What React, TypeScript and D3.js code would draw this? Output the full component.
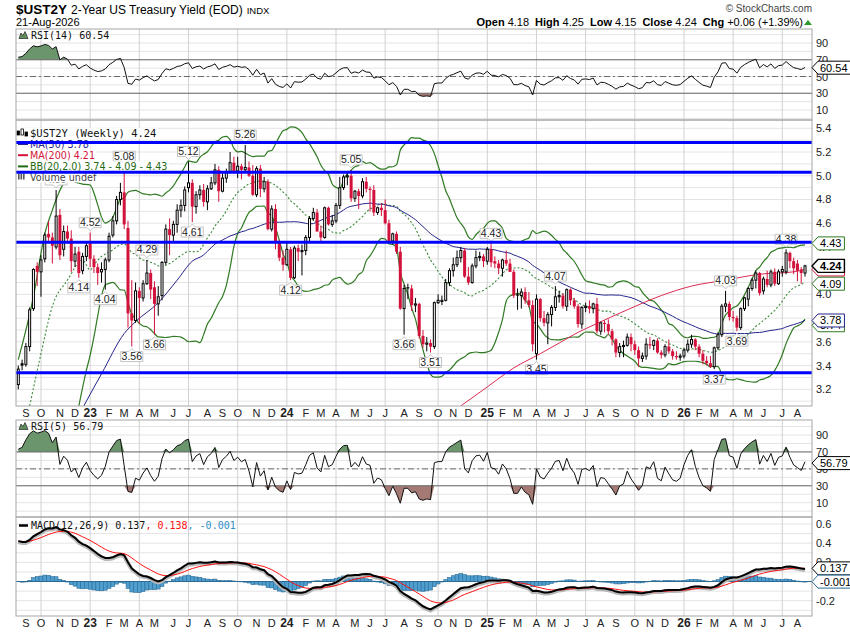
import React, { useEffect, useRef } from 'react';
import * as d3 from 'd3';

// first weekly bar: week starting Monday 22-Aug-2022, last bar week of 17-Aug-2026
const firstWeek = new Date(2022, 7, 22);

const opens = [
  3.24, 3.42, 3.41, 3.56, 3.88, 4.24, 4.19, 4.30, 4.51, 4.48,
  4.40, 4.67, 4.38, 4.53, 4.47, 4.28, 4.36, 4.20, 4.32, 4.43,
  4.30, 4.23, 4.19, 4.21, 4.29, 4.50, 4.62, 4.80, 4.86, 4.56,
  3.84, 3.78, 4.03, 3.97, 4.09, 4.18, 4.06, 3.92, 3.99, 4.27,
  4.55, 4.50, 4.59, 4.71, 4.75, 4.90, 4.94, 4.74, 4.84, 4.88,
  4.78, 4.89, 4.94, 5.05, 4.87, 4.98, 5.03, 5.11, 5.04, 5.08,
  5.05, 5.07, 5.00, 4.84, 5.06, 4.89, 4.95, 4.55, 4.72, 4.44,
  4.31, 4.25, 4.38, 4.14, 4.39, 4.36, 4.37, 4.48, 4.64, 4.69,
  4.53, 4.48, 4.73, 4.59, 4.62, 4.75, 4.90, 4.99, 5.00, 4.81,
  4.87, 4.83, 4.95, 4.89, 4.88, 4.69, 4.73, 4.71, 4.60, 4.45,
  4.51, 4.36, 3.88, 4.06, 4.05, 3.91, 3.92, 3.65, 3.58, 3.59,
  3.56, 3.93, 3.94, 3.95, 4.10, 4.20, 4.25, 4.31, 4.37, 4.15,
  4.10, 4.24, 4.31, 4.32, 4.28, 4.38, 4.28, 4.26, 4.22, 4.29,
  4.26, 4.19, 4.00, 3.99, 4.02, 3.95, 3.91, 3.50, 3.96, 3.80,
  3.76, 3.83, 3.89, 3.98, 3.99, 3.90, 4.04, 3.95, 3.90, 3.75,
  3.89, 3.90, 3.88, 3.92, 3.69, 3.76, 3.75, 3.69, 3.62, 3.51,
  3.56, 3.57, 3.64, 3.58, 3.53, 3.46, 3.48, 3.58, 3.57, 3.61,
  3.51, 3.49, 3.56, 3.52, 3.48, 3.47, 3.48, 3.53, 3.58, 3.62,
  3.56, 3.50, 3.44, 3.42, 3.39, 3.55, 3.66, 3.90, 3.92, 3.81,
  3.80, 3.72, 3.88, 3.96, 4.05, 4.12, 4.18, 4.03, 4.13, 4.08,
  4.19, 4.09, 4.19, 4.19, 4.35, 4.28, 4.26, 4.21, 4.18,
];
const highs = [
  3.40, 3.45, 3.59, 3.89, 4.22, 4.27, 4.33, 4.52, 4.62, 4.52,
  4.88, 4.72, 4.58, 4.58, 4.54, 4.40, 4.40, 4.35, 4.45, 4.52,
  4.33, 4.26, 4.27, 4.31, 4.52, 4.66, 4.83, 4.94, 5.08, 4.62,
  4.12, 4.10, 4.06, 4.12, 4.29, 4.21, 4.11, 4.07, 4.28, 4.59,
  4.64, 4.62, 4.76, 4.80, 4.91, 5.12, 4.97, 4.87, 4.92, 4.93,
  4.92, 4.99, 5.10, 5.08, 5.02, 5.06, 5.20, 5.16, 5.16, 5.10,
  5.26, 5.12, 5.09, 5.08, 5.09, 4.99, 4.97, 4.75, 4.76, 4.46,
  4.37, 4.45, 4.40, 4.41, 4.42, 4.42, 4.50, 4.66, 4.73, 4.72,
  4.58, 4.74, 4.74, 4.67, 4.77, 4.99, 5.01, 5.03, 5.05, 4.88,
  4.89, 4.98, 4.99, 4.91, 4.92, 4.74, 4.77, 4.80, 4.63, 4.52,
  4.53, 4.40, 4.08, 4.09, 4.08, 3.97, 3.93, 3.70, 3.64, 3.62,
  3.94, 4.00, 3.99, 4.13, 4.22, 4.31, 4.37, 4.40, 4.39, 4.23,
  4.26, 4.37, 4.36, 4.34, 4.40, 4.43, 4.32, 4.29, 4.30, 4.37,
  4.30, 4.21, 4.05, 4.05, 4.06, 4.02, 3.95, 4.00, 3.97, 3.86,
  3.85, 3.91, 4.07, 4.03, 4.01, 4.05, 4.05, 3.97, 3.92, 3.90,
  3.93, 3.95, 3.93, 3.97, 3.77, 3.78, 3.79, 3.71, 3.63, 3.59,
  3.61, 3.67, 3.67, 3.61, 3.56, 3.51, 3.63, 3.64, 3.62, 3.63,
  3.53, 3.58, 3.62, 3.54, 3.52, 3.50, 3.55, 3.62, 3.66, 3.63,
  3.58, 3.53, 3.48, 3.48, 3.56, 3.68, 3.92, 4.03, 3.94, 3.86,
  3.82, 3.89, 3.98, 4.06, 4.14, 4.20, 4.19, 4.15, 4.20, 4.21,
  4.22, 4.21, 4.24, 4.38, 4.36, 4.31, 4.29, 4.23, 4.25,
];
const lows = [
  3.20, 3.36, 3.39, 3.52, 3.86, 4.07, 3.98, 4.27, 4.44, 4.26,
  4.38, 4.29, 4.32, 4.43, 4.19, 4.23, 4.14, 4.17, 4.28, 4.23,
  4.18, 4.08, 4.10, 4.04, 4.27, 4.48, 4.59, 4.75, 4.55, 3.72,
  3.56, 3.76, 3.75, 3.94, 4.08, 3.96, 3.66, 3.82, 3.95, 4.25,
  4.33, 4.45, 4.52, 4.65, 4.70, 4.86, 4.61, 4.68, 4.80, 4.74,
  4.71, 4.88, 4.92, 4.78, 4.86, 4.94, 5.02, 5.02, 4.98, 4.97,
  5.04, 4.99, 4.83, 4.82, 4.82, 4.86, 4.54, 4.53, 4.38, 4.28,
  4.20, 4.24, 4.12, 4.13, 4.28, 4.16, 4.33, 4.45, 4.62, 4.53,
  4.44, 4.47, 4.58, 4.57, 4.60, 4.72, 4.88, 4.92, 4.78, 4.78,
  4.72, 4.81, 4.86, 4.70, 4.66, 4.67, 4.66, 4.59, 4.44, 4.42,
  4.34, 3.87, 3.66, 3.96, 3.86, 3.85, 3.63, 3.55, 3.52, 3.51,
  3.54, 3.92, 3.91, 3.94, 4.07, 4.15, 4.23, 4.27, 4.14, 4.08,
  4.09, 4.22, 4.28, 4.23, 4.25, 4.23, 4.22, 4.17, 4.15, 4.24,
  4.19, 3.97, 3.87, 3.88, 3.92, 3.89, 3.52, 3.45, 3.77, 3.73,
  3.58, 3.73, 3.86, 3.93, 3.88, 3.86, 3.91, 3.88, 3.72, 3.71,
  3.85, 3.84, 3.84, 3.67, 3.66, 3.68, 3.66, 3.57, 3.47, 3.47,
  3.47, 3.56, 3.52, 3.49, 3.39, 3.43, 3.45, 3.54, 3.53, 3.50,
  3.46, 3.47, 3.50, 3.45, 3.45, 3.44, 3.46, 3.51, 3.55, 3.53,
  3.47, 3.41, 3.40, 3.38, 3.37, 3.53, 3.64, 3.85, 3.78, 3.77,
  3.69, 3.70, 3.86, 3.90, 4.03, 4.05, 3.99, 4.00, 4.06, 4.06,
  4.07, 4.08, 4.15, 4.17, 4.22, 4.17, 4.11, 4.09, 4.15,
];
const closes = [
  3.37, 3.40, 3.56, 3.87, 4.21, 4.19, 4.29, 4.50, 4.48, 4.41,
  4.66, 4.33, 4.53, 4.47, 4.28, 4.34, 4.18, 4.32, 4.41, 4.30,
  4.23, 4.18, 4.21, 4.29, 4.49, 4.62, 4.80, 4.86, 4.59, 3.84,
  3.78, 4.03, 3.97, 4.09, 4.18, 4.04, 3.92, 3.98, 4.27, 4.55,
  4.50, 4.59, 4.71, 4.75, 4.88, 4.94, 4.74, 4.84, 4.88, 4.78,
  4.89, 4.94, 5.05, 4.87, 4.98, 5.03, 5.11, 5.04, 5.08, 5.05,
  5.07, 5.00, 4.84, 5.06, 4.89, 4.95, 4.55, 4.72, 4.44, 4.31,
  4.25, 4.38, 4.14, 4.39, 4.36, 4.37, 4.48, 4.64, 4.69, 4.53,
  4.48, 4.73, 4.59, 4.62, 4.75, 4.90, 4.99, 5.00, 4.81, 4.87,
  4.83, 4.95, 4.89, 4.88, 4.69, 4.73, 4.71, 4.60, 4.45, 4.51,
  4.36, 3.88, 4.05, 4.05, 3.91, 3.92, 3.65, 3.58, 3.59, 3.56,
  3.93, 3.95, 3.95, 4.10, 4.20, 4.25, 4.31, 4.37, 4.15, 4.10,
  4.24, 4.31, 4.32, 4.28, 4.38, 4.27, 4.26, 4.22, 4.29, 4.26,
  4.19, 3.99, 3.99, 4.02, 3.95, 3.91, 3.58, 3.96, 3.80, 3.76,
  3.83, 3.89, 3.98, 3.99, 3.90, 4.04, 3.95, 3.90, 3.75, 3.89,
  3.90, 3.88, 3.92, 3.69, 3.76, 3.75, 3.69, 3.62, 3.51, 3.56,
  3.57, 3.64, 3.58, 3.53, 3.46, 3.48, 3.58, 3.57, 3.61, 3.51,
  3.49, 3.56, 3.52, 3.48, 3.47, 3.48, 3.53, 3.58, 3.62, 3.56,
  3.50, 3.44, 3.42, 3.39, 3.55, 3.66, 3.90, 3.92, 3.81, 3.80,
  3.72, 3.88, 3.97, 4.05, 4.12, 4.18, 4.01, 4.13, 4.08, 4.19,
  4.09, 4.19, 4.21, 4.35, 4.28, 4.22, 4.20, 4.18, 4.24,
];

const ma50Early = [[17, 3.04], [18, 3.10], [22, 3.33], [28, 3.67], [31, 3.77], [37, 3.93], [42, 4.12], [46, 4.28]];
const ma200Points = [
  [117, 3.06], [124, 3.22], [131, 3.38], [138, 3.50], [143, 3.59], [148, 3.68], [152, 3.74],
  [161, 3.87], [170, 3.99], [178, 4.07], [187, 4.12], [196, 4.17], [205, 4.19], [208, 4.21],
];
const bbUpperEarly = [[0, 3.45], [4, 3.98], [7, 4.51], [9, 4.71], [10, 4.80], [13, 4.96], [17, 4.93]];
const bbMiddleEarly = [[3, 3.06], [6, 3.50], [9, 3.90], [13, 4.12], [17, 4.29]];
const bbLowerEarly = [[16, 3.06], [18, 3.36]];

// seeds for the running averages at the first bar
const rsi14Seed = [0.054, 0.02];
const rsi5Seed = [0.06, 0.022];
const macdSeed = [3.08, 2.65, 0.42];

const levelLines = [5.28, 5.03, 4.44, 3.34];
const highLabelBars = [10, 19, 28, 34, 45, 60, 88, 125, 142, 187, 203];
const lowLabelBars = [16, 23, 30, 36, 46, 72, 102, 109, 137, 184, 190];

const priceTicks = [5.4, 5.2, 5.0, 4.8, 4.6, 4.4, 4.2, 4.0, 3.8, 3.6, 3.4, 3.2];
const rsiTicks = [90, 70, 50, 30, 10];
const macdTicks = [0.6, 0.4, 0.2, -0.2];
const monthLetters = ['J', 'F', 'M', 'A', 'M', 'J', 'J', 'A', 'S', 'O', 'N', 'D'];

const headerStats = [['Open', '4.18'], ['High', '4.25'], ['Low', '4.15'], ['Close', '4.24'], ['Chg', '+0.06 (+1.39%)']];
const lastClose = 4.24;
const lastMa50 = 3.78;
const lastMa200 = 4.21;
const lastBB = [3.74, 4.09, 4.43];
const lastRsi14 = 60.54;
const lastRsi5 = 56.79;
const lastMacd = [0.137, 0.138, -0.001];

export default function App() {
  const svgRef = useRef<SVGSVGElement>(null);

  useEffect(() => {
    if (!svgRef.current) return;
    const svg = d3.select(svgRef.current);
    svg.selectAll('*').remove();

    const left = 16, right = 812;
    const n = closes.length;
    const red = '#d3123c';
    const green = '#2f7a22';
    const navy = '#24248c';
    const sans = '"Liberation Sans", Arial, sans-serif';
    const mono = '"DejaVu Sans Mono", monospace';
    const dejavu = '"DejaVu Sans", Verdana, sans-serif';

    const x = d3.scaleLinear().domain([0, n - 1]).range([18.3, 805]);
    const dates = closes.map((_, i) => d3.timeDay.offset(firstWeek, i * 7));
    const monthStarts = d3.range(1, n).filter(i => dates[i].getMonth() !== dates[i - 1].getMonth());
    const quarterStarts = monthStarts.filter(i => dates[i].getMonth() % 3 === 0);

    const panels: Record<string, number[]> = {
      rsi14: [29, 120],
      main: [120, 406],
      rsi5: [420, 517],
      macd: [517, 616],
    };
    const yRsi14 = d3.scaleLinear().domain([10, 90]).range([110, 43]);
    const yPrice = d3.scaleLinear().domain([3.2, 5.4]).range([389.3, 128.3]);
    const yRsi5 = d3.scaleLinear().domain([10, 90]).range([502.7, 435]);
    const yMacd = d3.scaleLinear().domain([-0.2, 0.6]).range([600.7, 524]);

    // indicators
    const rsi = (period: number, seed: number[]) => {
      let gain = seed[0], loss = seed[1];
      return closes.map((c, i) => {
        if (i > 0) {
          const ch = c - closes[i - 1];
          gain = (gain * (period - 1) + Math.max(ch, 0)) / period;
          loss = (loss * (period - 1) + Math.max(-ch, 0)) / period;
        }
        return 100 - 100 / (1 + gain / loss);
      });
    };
    const rsi14 = rsi(14, rsi14Seed);
    const rsi5 = rsi(5, rsi5Seed);

    let fast = macdSeed[0], slow = macdSeed[1], signal = macdSeed[2];
    const macd = closes.map(c => {
      fast += (c - fast) * 2 / 13;
      slow += (c - slow) * 2 / 27;
      const m = fast - slow;
      signal += (m - signal) * 2 / 10;
      return { m, s: signal, h: m - signal };
    });

    const bb = d3.range(19, n).map(i => {
      const w = closes.slice(i - 19, i + 1);
      const m = d3.mean(w)!;
      const sd = Math.sqrt(d3.mean(w, v => (v - m) * (v - m))!);
      return { i, m, up: m + 2 * sd, lo: m - 2 * sd };
    });
    const ma50 = d3.range(49, n).map(i => [i, d3.mean(closes.slice(i - 49, i + 1))!]);

    const bbUpper = [...bbUpperEarly, ...bb.map(d => [d.i, d.up])];
    const bbMiddle = [...bbMiddleEarly, ...bb.map(d => [d.i, d.m])];
    const bbLower = [...bbLowerEarly, ...bb.map(d => [d.i, d.lo])];
    const ma50Line = [...ma50Early, ...ma50];

    const defs = svg.append('defs');
    const borders: number[][] = [];

    const hLine = (g: any, y: number, stroke: string, dash: string | null = null, width = 1) =>
      g.append('line').attr('x1', left).attr('x2', right).attr('y1', y).attr('y2', y)
        .attr('stroke', stroke).attr('stroke-width', width).attr('stroke-dasharray', dash);

    function panel(key: string, y: any, grid: number[]) {
      const [top, bottom] = panels[key];
      defs.append('clipPath').attr('id', `clip-${key}`)
        .append('rect').attr('x', left).attr('y', top).attr('width', right - left).attr('height', bottom - top);
      const g = svg.append('g');
      g.append('rect').attr('x', left).attr('y', top).attr('width', right - left).attr('height', bottom - top).attr('fill', '#fff');
      const body = g.append('g').attr('clip-path', `url(#clip-${key})`);
      grid.forEach(v => hLine(body, y(v), '#e4e4e4'));
      quarterStarts.forEach(i => body.append('line')
        .attr('x1', x(i)).attr('x2', x(i)).attr('y1', top).attr('y2', bottom)
        .attr('stroke', '#d2d2d2'));
      borders.push([top, bottom]);
      return { g, body };
    }

    const tags: [number, string, string, boolean][] = [];

    function rightTicks(g: any, y: any, ticks: number[], fmt: (v: number) => string) {
      ticks.forEach(v => g.append('text')
        .attr('x', right + 4).attr('y', y(v) + 4)
        .attr('font-family', sans).attr('font-size', 11).attr('fill', '#222')
        .text(fmt(v)));
    }

    // ---- RSI panels
    function drawRsi(key: string, y: any, values: number[], title: string, last: number) {
      const { g, body } = panel(key, y, d3.range(0, 101, 10));
      body.append('path').datum(values)
        .attr('d', d3.area<number>().x((_, i) => x(i)).y0(y(70)).y1(v => y(Math.max(v, 70))))
        .attr('fill', '#6b966b');
      body.append('path').datum(values)
        .attr('d', d3.area<number>().x((_, i) => x(i)).y0(y(30)).y1(v => y(Math.min(v, 30))))
        .attr('fill', '#a57a74');
      hLine(body, y(70), '#6a6a6a');
      hLine(body, y(30), '#6a6a6a');
      hLine(body, y(50), '#6a6a6a', '6,3,2,3');
      body.append('path').datum(values)
        .attr('d', d3.line<number>().x((_, i) => x(i)).y(v => y(v)))
        .attr('fill', 'none').attr('stroke', '#111').attr('stroke-width', 1);

      const top = panels[key][0];
      g.append('path')
        .attr('d', `M19,${top + 9.5} L21,${top + 4} L23,${top + 6.5} L25,${top + 2.5} L28,${top + 9.5} Z`)
        .attr('fill', '#5f8f5f').attr('stroke', '#222').attr('stroke-width', 0.7);
      g.append('text').attr('x', 31).attr('y', top + 10)
        .attr('font-family', mono).attr('font-size', 10).attr('fill', '#111')
        .text(`${title} ${last.toFixed(2)}`);
      rightTicks(g, y, rsiTicks, v => String(v));
      tags.push([y(last), last.toFixed(2), '#000', false]);
    }

    drawRsi('rsi14', yRsi14, rsi14, 'RSI(14)', lastRsi14);

    // ---- price panel
    {
      const { g, body } = panel('main', yPrice, d3.range(31, 55).map(v => v / 10));
      const line = d3.line<number[]>().x(d => x(d[0])).y(d => yPrice(d[1])).curve(d3.curveMonotoneX);

      body.append('path').datum(bbUpper).attr('d', line).attr('fill', 'none').attr('stroke', green).attr('stroke-width', 1.2);
      body.append('path').datum(bbLower).attr('d', line).attr('fill', 'none').attr('stroke', green).attr('stroke-width', 1.2);
      body.append('path').datum(bbMiddle).attr('d', line).attr('fill', 'none').attr('stroke', '#3b8a3b')
        .attr('stroke-width', 1.1).attr('stroke-dasharray', '2,2');
      body.append('path').datum(ma50Line).attr('d', line).attr('fill', 'none').attr('stroke', navy).attr('stroke-width', 1);
      body.append('path').datum(ma200Points).attr('d', line).attr('fill', 'none').attr('stroke', '#de2a52').attr('stroke-width', 1);

      closes.forEach((c, i) => {
        const o = opens[i];
        const prev = i > 0 ? closes[i - 1] : o;
        const color = c < prev ? red : '#000';
        const cx = x(i);
        body.append('line').attr('x1', cx).attr('x2', cx)
          .attr('y1', yPrice(highs[i])).attr('y2', yPrice(lows[i]))
          .attr('stroke', color).attr('stroke-width', 1);
        const yt = yPrice(Math.max(o, c));
        const bh = Math.max(1, yPrice(Math.min(o, c)) - yt);
        if (c < o) {
          body.append('rect').attr('x', cx - 1.5).attr('y', yt).attr('width', 3).attr('height', bh).attr('fill', color);
        } else {
          body.append('rect').attr('x', cx - 1).attr('y', yt).attr('width', 2).attr('height', bh)
            .attr('fill', '#fff').attr('stroke', color).attr('stroke-width', 1);
        }
      });

      const peakLabel = (i: number, value: number, above: boolean) => {
        const cx = x(i);
        const py = yPrice(value);
        const w = 22, h = 10;
        const bx = cx - w / 2;
        const by = above ? py - 5 - h : py + 5;
        const d = above
          ? `M${bx},${by} H${bx + w} V${by + h} H${cx + 3} L${cx},${by + h + 3} L${cx - 3},${by + h} H${bx} Z`
          : `M${bx},${by} H${cx - 3} L${cx},${by - 3} L${cx + 3},${by} H${bx + w} V${by + h} H${bx} Z`;
        body.append('path').attr('d', d).attr('fill', '#fff').attr('stroke', '#c4c4c4').attr('stroke-width', 1);
        body.append('text').attr('x', cx).attr('y', by + h - 1.5).attr('text-anchor', 'middle')
          .attr('font-family', sans).attr('font-size', 10.5).attr('fill', '#222')
          .text(value.toFixed(2));
      };
      highLabelBars.forEach(i => peakLabel(i, highs[i], true));
      lowLabelBars.forEach(i => peakLabel(i, lows[i], false));

      // legend, each row on a white strip
      const lg = g.append('g');
      const legendRow = (by: number, text: string, color: string, font: string, size: number) => {
        const bg = lg.append('rect').attr('fill', '#fff');
        const t = lg.append('text').attr('x', 30).attr('y', by).attr('font-family', font).attr('font-size', size)
          .attr('fill', color).text(text);
        const w = (t.node() as SVGTextElement).getComputedTextLength();
        bg.attr('x', left + 0.5).attr('y', by - 8.5).attr('width', 30 - left + w + 1).attr('height', 10.5);
      };
      legendRow(136.5, `$UST2Y (Weekly) ${lastClose.toFixed(2)}`, '#111', mono, 10.5);
      [[17, 131, 4], [21, 129, 6], [25, 132, 4]].forEach(([bx, by, bh]) => {
        lg.append('rect').attr('x', bx).attr('y', by).attr('width', 2.5).attr('height', bh)
          .attr('fill', bx === 21 ? '#fff' : '#000').attr('stroke', '#000').attr('stroke-width', 0.8);
      });
      const legendRows: [string, string][] = [
        [navy, `MA(50) ${lastMa50.toFixed(2)}`],
        [red, `MA(200) ${lastMa200.toFixed(2)}`],
        ['#1f6b14', `BB(20,2.0) ${lastBB[0].toFixed(2)} - ${lastBB[1].toFixed(2)} - ${lastBB[2].toFixed(2)}`],
      ];
      legendRows.forEach(([color, text], k) => {
        const by = 147.5 + k * 11.2;
        legendRow(by, text, color, dejavu, 9.6);
        lg.append('line').attr('x1', 18).attr('x2', 28).attr('y1', by - 3.5).attr('y2', by - 3.5)
          .attr('stroke', color).attr('stroke-width', 2);
      });
      legendRow(180.5, 'Volume undef', '#444', dejavu, 9.6);
      [18, 20.5, 23].forEach(bx => lg.append('rect').attr('x', bx).attr('y', 173.5).attr('width', 1.6).attr('height', 6).attr('fill', '#555'));

      // horizontal levels on top of everything in the panel
      const levels = g.append('g').attr('clip-path', 'url(#clip-main)');
      levelLines.forEach(v => hLine(levels, yPrice(v), '#0000ff', null, 3));

      rightTicks(g, yPrice, priceTicks, v => v.toFixed(1));
      tags.push([yPrice(lastBB[2]), lastBB[2].toFixed(2), green, false]);
      tags.push([yPrice(lastMa200), lastMa200.toFixed(2), red, false]);
      tags.push([yPrice(lastClose), lastClose.toFixed(2), '#000', true]);
      tags.push([yPrice(lastBB[1]), lastBB[1].toFixed(2), green, false]);
      tags.push([yPrice(lastBB[0]), lastBB[0].toFixed(2), green, false]);
      tags.push([yPrice(lastMa50), lastMa50.toFixed(2), navy, false]);
    }

    drawRsi('rsi5', yRsi5, rsi5, 'RSI(5)', lastRsi5);

    // ---- MACD panel
    {
      const { g, body } = panel('macd', yMacd, d3.range(-3, 7).map(v => v / 10));
      const y0 = yMacd(0);
      const step = x(1) - x(0);
      macd.forEach((d, i) => {
        const yh = yMacd(d.h);
        body.append('rect').attr('x', x(i) - step / 2).attr('y', Math.min(y0, yh))
          .attr('width', step).attr('height', Math.abs(yh - y0))
          .attr('fill', '#4e9fcf').attr('stroke', '#2b6b96').attr('stroke-width', 0.6);
      });
      hLine(body, y0, '#2b6b96', null, 1);
      const line = (key: 'm' | 's') => d3.line<any>().x((_, i) => x(i)).y(d => yMacd(d[key]));
      body.append('path').datum(macd).attr('d', line('m')).attr('fill', 'none')
        .attr('stroke', '#b8b8b8').attr('stroke-width', 4).attr('transform', 'translate(0,1)');
      body.append('path').datum(macd).attr('d', line('s')).attr('fill', 'none').attr('stroke', '#ff1010').attr('stroke-width', 1);
      body.append('path').datum(macd).attr('d', line('m')).attr('fill', 'none').attr('stroke', '#000').attr('stroke-width', 2);

      const top = panels.macd[0];
      g.append('line').attr('x1', 19).attr('x2', 28).attr('y1', top + 8.5).attr('y2', top + 8.5).attr('stroke', '#000').attr('stroke-width', 2.5);
      const t = g.append('text').attr('x', 31).attr('y', top + 12).attr('font-family', mono).attr('font-size', 10);
      t.append('tspan').attr('fill', '#111').text(`MACD(12,26,9) ${lastMacd[0].toFixed(3)}`);
      t.append('tspan').attr('fill', '#ff1010').text(`, ${lastMacd[1].toFixed(3)}`);
      t.append('tspan').attr('fill', '#2f8fc8').text(`, ${lastMacd[2].toFixed(3)}`);

      rightTicks(g, yMacd, macdTicks, v => v.toFixed(1));
      tags.push([yMacd(lastMacd[0]), lastMacd[0].toFixed(3), '#000', false]);
      tags.push([yMacd(lastMacd[2]), lastMacd[2].toFixed(3), '#2b6b96', false]);
    }

    // panel borders
    borders.forEach(([top, bottom]) => svg.append('rect')
      .attr('x', left).attr('y', top).attr('width', right - left).attr('height', bottom - top)
      .attr('fill', 'none').attr('stroke', '#a6a6a6'));

    // date axes
    [417, 627].forEach(ty => {
      monthStarts.forEach(i => {
        const m = dates[i].getMonth();
        svg.append('text').attr('x', x(i)).attr('y', ty).attr('text-anchor', 'middle')
          .attr('font-family', sans).attr('font-size', m === 0 ? 12 : 11)
          .attr('font-weight', m === 0 ? 'bold' : 'normal').attr('fill', '#222')
          .text(m === 0 ? d3.timeFormat('%y')(dates[i]) : monthLetters[m]);
      });
    });

    // value tags on the right edge
    tags.forEach(([ty, text, stroke, bold]) => {
      const tg = svg.append('g');
      const path = tg.append('path');
      const t = tg.append('text').attr('x', right + 8).attr('y', ty + 4)
        .attr('font-family', sans).attr('font-size', 11).attr('font-weight', bold ? 'bold' : 'normal')
        .attr('fill', '#000').text(text);
      const w = (t.node() as SVGTextElement).getComputedTextLength();
      path.attr('d', `M${right},${ty} L${right + 6},${ty - 6.5} H${right + w + 11} V${ty + 6.5} H${right + 6} Z`)
        .attr('fill', '#fff').attr('stroke', stroke).attr('stroke-width', bold ? 1.4 : 1);
    });

    // header
    const title = svg.append('text').attr('x', 16).attr('y', 14).attr('font-family', sans).attr('fill', '#000');
    title.append('tspan').attr('font-size', 13.5).attr('font-weight', 'bold').text('$UST2Y');
    title.append('tspan').attr('font-size', 12).attr('dx', 4).text('2-Year US Treasury Yield (EOD)');
    title.append('tspan').attr('font-size', 9.5).attr('dx', 4).text('INDX');
    svg.append('text').attr('x', 16).attr('y', 26).attr('font-family', sans).attr('font-size', 11).text('21-Aug-2026');
    svg.append('text').attr('x', 812).attr('y', 12).attr('text-anchor', 'end')
      .attr('font-family', sans).attr('font-size', 10).attr('fill', '#444').text('© StockCharts.com');
    const stats = svg.append('text').attr('x', 803).attr('y', 26).attr('text-anchor', 'end')
      .attr('font-family', sans).attr('font-size', 11).attr('fill', '#000');
    headerStats.forEach(([label, value], k) => {
      stats.append('tspan').attr('font-weight', 'bold').attr('dx', k === 0 ? 0 : 6).text(label);
      stats.append('tspan').attr('dx', 3).text(value);
    });
    svg.append('path').attr('d', 'M804,25 L812,25 L808,20 Z').attr('fill', '#2a9a2a');
  }, []);

  return (
    <svg
      ref={svgRef}
      width={850}
      height={633}
      style={{ position: 'absolute', left: 0, top: 0, background: '#fff' }}
    />
  );
}
